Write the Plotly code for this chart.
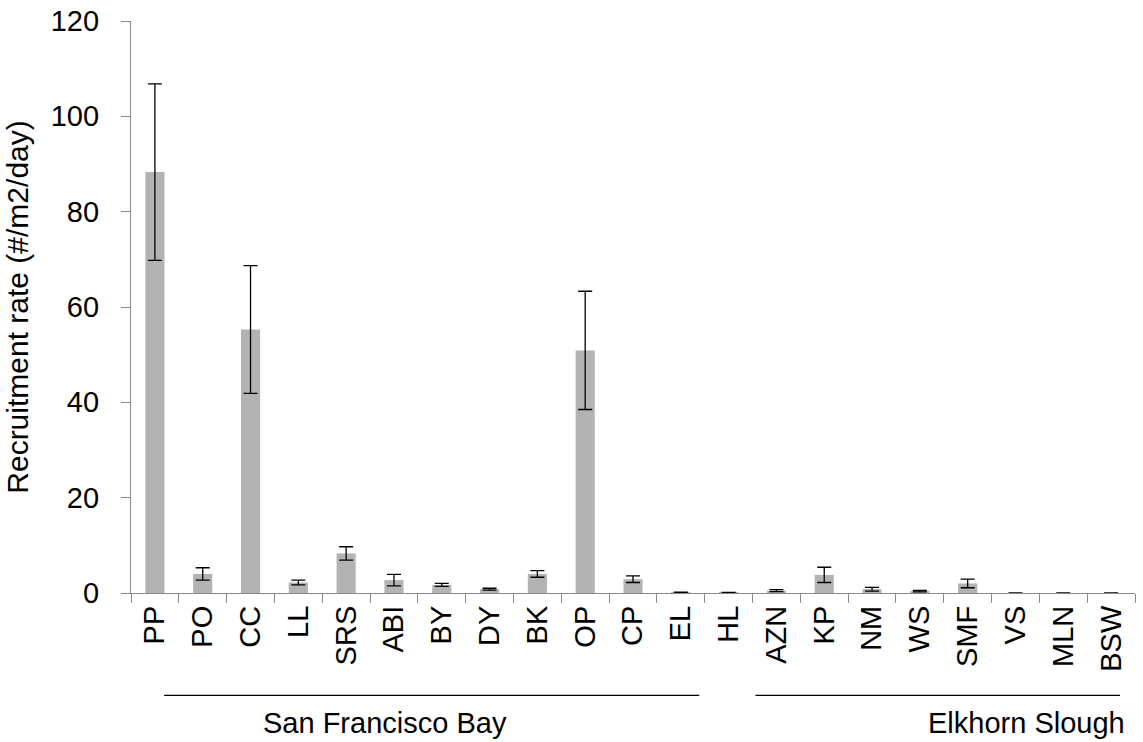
import plotly.graph_objects as go

sites = ["PP", "PO", "CC", "LL", "SRS", "ABI", "BY", "DY", "BK", "OP", "CP", "EL",
         "HL", "AZN", "KP", "NM", "WS", "SMF", "VS", "MLN", "BSW"]
rates = [88.3, 4.0, 55.3, 2.2, 8.3, 2.7, 1.7, 0.8, 4.0, 50.9, 2.9, 0.15,
         0.08, 0.5, 3.8, 0.8, 0.4, 2.0, 0.0, 0.0, 0.0]
errors = [18.5, 1.3, 13.4, 0.5, 1.4, 1.2, 0.3, 0.2, 0.7, 12.4, 0.7, 0.05,
          0.03, 0.2, 1.6, 0.4, 0.15, 0.9, 0.0, 0.0, 0.0]
y_ticks = [0, 20, 40, 60, 80, 100, 120]
groups = ["San Francisco Bay", "Elkhorn Slough"]

FONT = "Liberation Sans, Arial, sans-serif"
AXIS = "#898989"
FS = 29

fig = go.Figure()
fig.add_trace(go.Bar(
    x=sites, y=rates,
    marker=dict(color="#b3b3b3", line=dict(width=0)),
    error_y=dict(type="data", array=errors, visible=True,
                 color="black", thickness=1.3, width=7),
    width=0.4,
))

fig.update_layout(
    width=1143, height=742,
    margin=dict(l=131, r=8, t=21, b=149, autoexpand=False),
    paper_bgcolor="white", plot_bgcolor="white",
    showlegend=False,
    font=dict(family=FONT, size=FS, color="black"),
    xaxis=dict(
        type="category", range=[-0.5, 20.5], automargin=False,
        showline=True, linecolor=AXIS, linewidth=1.3,
        ticks="outside", tickson="boundaries", ticklen=9, tickcolor=AXIS, tickwidth=1.3,
        tickangle=-90, ticklabelstandoff=0,
        tickfont=dict(family=FONT, size=FS, color="black"),
        showgrid=False, zeroline=False,
    ),
    yaxis=dict(
        range=[0, 120], tickvals=y_ticks, automargin=False,
        showline=True, linecolor=AXIS, linewidth=1.3,
        ticks="outside", ticklen=9, tickcolor=AXIS, tickwidth=1.3,
        ticklabelstandoff=16, ticklabeloverflow="allow",
        tickfont=dict(family=FONT, size=FS, color="black"),
        showgrid=False, zeroline=False,
        title=dict(text="Recruitment rate (#/m2/day)", standoff=13,
                   font=dict(family=FONT, size=30, color="black")),
    ),
)

# group underlines and labels
line_spans = [(0.033, 0.566), (0.622, 0.985)]
label_pos = [0.253, 0.892]
for (x0, x1), lx, name in zip(line_spans, label_pos, groups):
    fig.add_shape(type="line", xref="paper", yref="paper",
                  x0=x0, x1=x1, y0=-0.179, y1=-0.179,
                  line=dict(color="black", width=1.3))
    fig.add_annotation(xref="paper", yref="paper", x=lx, y=-0.228,
                       text=name, showarrow=False,
                       font=dict(family=FONT, size=FS, color="black"),
                       xanchor="center", yanchor="middle")

fig.write_html("out.html",
               config={"displayModeBar": False},
               post_script="document.body.style.margin='0';document.body.style.overflow='hidden';")
